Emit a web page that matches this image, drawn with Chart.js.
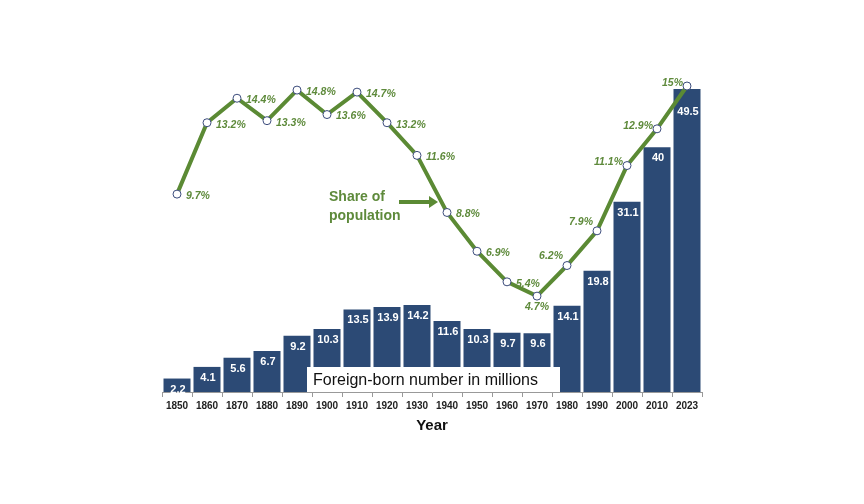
<!DOCTYPE html>
<html lang="en">
<head>
    <meta charset="UTF-8">
    <title>Foreign-born population</title>
    <script src="https://cdn.jsdelivr.net/npm/chart.js"></script>
    <style>
        html, body { margin: 0; padding: 0; background: #fff; }
        #wrap { width: 864px; height: 504px; }
    </style>
</head>
<body>
    <div id="wrap">
        <canvas id="myChartCanvas"></canvas>
    </div>

<script>
    // data
    const years = ['1850', '1860', '1870', '1880', '1890', '1900', '1910', '1920', '1930',
        '1940', '1950', '1960', '1970', '1980', '1990', '2000', '2010', '2023'];
    const foreignBorn = [2.2, 4.1, 5.6, 6.7, 9.2, 10.3, 13.5, 13.9, 14.2,
        11.6, 10.3, 9.7, 9.6, 14.1, 19.8, 31.1, 40, 49.5];
    const sharePct = [9.7, 13.2, 14.4, 13.3, 14.8, 13.6, 14.7, 13.2, 11.6,
        8.8, 6.9, 5.4, 4.7, 6.2, 7.9, 11.1, 12.9, 15];

    // where each % label goes relative to its point: r = right, l = left, b = below
    const labelSide = ['r', 'r', 'r', 'r', 'r', 'r', 'r', 'r', 'r',
        'r', 'r', 'r', 'b', 'l', 'l', 'l', 'l', 'l'];

    const barColor = '#2c4a75';
    const lineColor = '#5b8a34';
    const textGreen = '#5e8a3b';

    const labelsPlugin = {
        id: 'labelsPlugin',
        afterDatasetsDraw(chart) {
            const ctx = chart.ctx;
            const barMeta = chart.getDatasetMeta(1);
            const lineMeta = chart.getDatasetMeta(0);
            ctx.save();

            // numbers inside the bars
            ctx.fillStyle = '#ffffff';
            ctx.font = 'bold 11px "Liberation Sans", Arial, sans-serif';
            ctx.textAlign = 'center';
            ctx.textBaseline = 'middle';
            barMeta.data.forEach((bar, i) => {
                let dy = (i === foreignBorn.length - 1) ? 23 : 11;
                ctx.fillText(String(foreignBorn[i]), bar.x + 1, bar.y + dy);
            });

            // white box with the bar caption
            const area = chart.chartArea;
            ctx.fillStyle = '#ffffff';
            ctx.fillRect(307, 367, 253, area.bottom - 367);
            ctx.fillStyle = '#111';
            ctx.font = '16px "Liberation Sans", Arial, sans-serif';
            ctx.textAlign = 'left';
            ctx.fillText('Foreign-born number in millions', 313, 381);

            // % labels
            ctx.fillStyle = textGreen;
            ctx.font = 'italic bold 10.5px "Liberation Sans", Arial, sans-serif';
            lineMeta.data.forEach((pt, i) => {
                const txt = sharePct[i] + '%';
                if (labelSide[i] === 'r') {
                    ctx.textAlign = 'left';
                    ctx.fillText(txt, pt.x + 9, pt.y + 2);
                } else if (labelSide[i] === 'b') {
                    ctx.textAlign = 'center';
                    ctx.fillText(txt, pt.x, pt.y + 11);
                } else {
                    ctx.textAlign = 'right';
                    let dy = (i < 15) ? -9 : -3;
                    ctx.fillText(txt, pt.x - 4, pt.y + dy);
                }
            });

            // "Share of population" note with its arrow
            ctx.font = 'bold 14px "Liberation Sans", Arial, sans-serif';
            ctx.textAlign = 'left';
            ctx.fillText('Share of', 329, 197);
            ctx.fillText('population', 329, 216);
            ctx.strokeStyle = lineColor;
            ctx.lineWidth = 4;
            ctx.beginPath();
            ctx.moveTo(399, 202);
            ctx.lineTo(430, 202);
            ctx.stroke();
            ctx.fillStyle = lineColor;
            ctx.beginPath();
            ctx.moveTo(429, 196);
            ctx.lineTo(438, 202);
            ctx.lineTo(429, 208);
            ctx.closePath();
            ctx.fill();

            ctx.restore();
        }
    };

    const dados = {
        labels: years,
        datasets: [{
            type: 'line',
            label: 'Share of population',
            data: sharePct,
            yAxisID: 'yPct',
            borderColor: lineColor,
            borderWidth: 4,
            tension: 0,
            pointRadius: 4,
            pointBackgroundColor: '#ffffff',
            pointBorderColor: '#3c4c7c',
            pointBorderWidth: 1,
            clip: false,
            order: 0
        }, {
            type: 'bar',
            label: 'Foreign-born number in millions',
            data: foreignBorn,
            yAxisID: 'yNum',
            backgroundColor: barColor,
            borderWidth: 0,
            barPercentage: 0.9,
            categoryPercentage: 1,
            order: 1
        }]
    };

    const config = {
        data: dados,
        options: {
            responsive: true,
            maintainAspectRatio: false,
            animation: false,
            layout: { padding: { left: 162, right: 162, top: 86, bottom: 65 } },
            plugins: {
                legend: { display: false },
                tooltip: { enabled: false }
            },
            scales: {
                x: {
                    grid: { drawOnChartArea: false, tickLength: 5, color: '#999' },
                    border: { color: '#999' },
                    ticks: {
                        color: '#222',
                        padding: 3,
                        font: { family: '"Liberation Sans", Arial, sans-serif', size: 10, weight: 'bold' }
                    },
                    title: {
                        display: true,
                        text: 'Year',
                        color: '#111',
                        padding: { top: 2, bottom: 4 },
                        font: { family: '"Liberation Sans", Arial, sans-serif', size: 15, weight: 'bold' }
                    }
                },
                yNum: { display: false, min: 0, max: 50 },
                yPct: { display: false, min: 0, max: 15 }
            }
        },
        plugins: [labelsPlugin]
    };

    let myChart = new Chart(document.getElementById('myChartCanvas'), config);
</script>
</body>
</html>
